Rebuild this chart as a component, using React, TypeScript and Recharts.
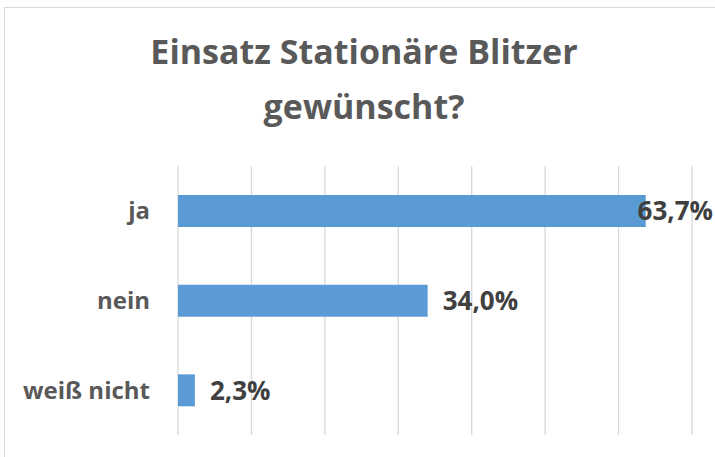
import React from 'react';
import { BarChart, Bar, XAxis, YAxis, CartesianGrid, LabelList } from 'recharts';

const categories = ['ja', 'nein', 'weiß nicht'];
const shares = [63.7, 34.0, 2.3];
const xTicks = [0, 10, 20, 30, 40, 50, 60, 70];

const data = categories.map((name, i) => ({ name, value: shares[i] }));

const W = 715;
const H = 457;
const FONT = '"Open Sans", sans-serif';

const fmt = (v: number) => v.toFixed(1).replace('.', ',') + '%';

const ValueLabel = (props: any) => {
  const { x, y, width, height, value } = props;
  const end = x + width;
  const approxW = 72;
  const fits = end + 15 + approxW <= W - 2;
  return (
    <text
      x={fits ? end + 15 : W - 2}
      y={y + height / 2}
      dy="0.355em"
      textAnchor={fits ? 'start' : 'end'}
      fill="#404040"
      fontFamily={FONT}
      fontWeight={700}
      fontSize={26}
    >
      {fmt(value)}
    </text>
  );
};

const App = () => {
  return (
    <div style={{ position: 'absolute', left: 0, top: 0, width: W, height: H, overflow: 'hidden', background: '#fff' }}>
      <div
        style={{
          position: 'absolute',
          left: 4,
          top: 7,
          width: W + 20,
          height: H + 20,
          border: '1px solid #D9D9D9',
        }}
      />
      <div
        style={{
          position: 'absolute',
          left: 0,
          top: 24,
          width: 728,
          textAlign: 'center',
          fontFamily: FONT,
          fontWeight: 700,
          fontSize: 34,
          lineHeight: '55px',
          color: '#595959',
        }}
      >
        Einsatz Stationäre Blitzer
        <br />
        gewünscht?
      </div>
      <div style={{ position: 'absolute', left: 0, top: 0 }}>
        <BarChart
          width={W}
          height={H}
          data={data}
          layout="vertical"
          margin={{ top: 166, right: 23, bottom: 22, left: 0 }}
        >
          <CartesianGrid horizontal={false} stroke="#D9D9D9" strokeWidth={1.3} />
          <XAxis
            type="number"
            domain={[0, 70]}
            ticks={xTicks}
            interval={0}
            tick={() => <g />}
            axisLine={false}
            tickLine={false}
            height={0}
          />
          <YAxis
            type="category"
            dataKey="name"
            width={178}
            axisLine={false}
            tickLine={false}
            tickSize={0}
            tickMargin={28}
            tick={{ fill: '#595959', fontFamily: FONT, fontWeight: 700, fontSize: 24 }}
          />
          <Bar dataKey="value" fill="#5B9BD5" barSize={32} isAnimationActive={false}>
            <LabelList dataKey="value" content={ValueLabel} />
          </Bar>
        </BarChart>
      </div>
    </div>
  );
};

export default App;
